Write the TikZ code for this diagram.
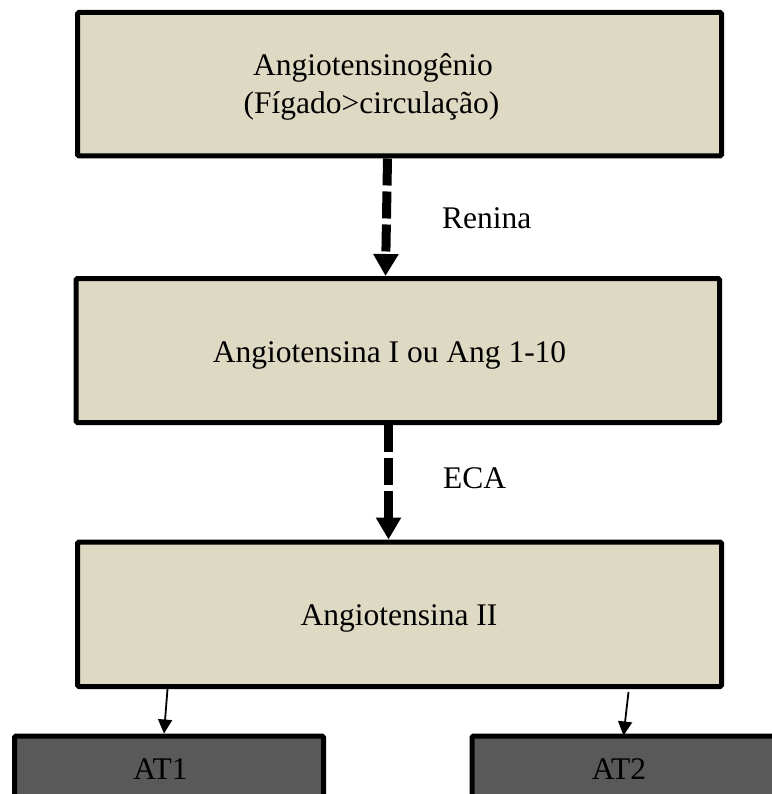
\documentclass[tikz,border=0pt]{standalone}
\usepackage{fontspec}
\setmainfont{Liberation Serif}
\usetikzlibrary{arrows.meta,calc}
\definecolor{tanfill}{HTML}{DDD9C3}
\definecolor{darkfill}{HTML}{595959}
\begin{document}
\begin{tikzpicture}[x=1pt,y=-1pt,
  mainbox/.style={draw=black,fill=tanfill,line width=5pt,rectangle,rounded corners=1.5pt,inner sep=0pt},
  atbox/.style={draw=black,fill=darkfill,line width=5pt,rectangle,rounded corners=1.5pt,inner sep=0pt},
  txt/.style={inner sep=0pt,anchor=base,font=\fontsize{31.5}{38}\selectfont},
  bigarrow/.style={line width=9pt,dash pattern=on 27pt off 6pt,-{Triangle[length=22pt,width=24pt]}},
  thinarrow/.style={line width=1.8pt,-{Triangle[length=14pt,width=14pt]}}]
\useasboundingbox (0,0) rectangle (771,794);
% boxes
\node[mainbox,minimum width=644pt,minimum height=143.5pt] (b1) at (399.5,84.25) {};
\node[mainbox,minimum width=643.5pt,minimum height=144pt] (b2) at (397.75,350.5) {};
\node[mainbox,minimum width=644pt,minimum height=144.5pt] (b3) at (399.5,614.25) {};
\node[atbox,minimum width=309pt,minimum height=64pt] (at1) at (169,768) {};
\node[atbox,minimum width=340pt,minimum height=64pt] (at2) at (642,768) {};
% texts
\node[txt] (t1a) at (373,76) {Angiotensinogênio};
\node[txt] (t1b) at (371.5,114) {(Fígado>circulação)};
\node[txt] (t2) at (389.5,362) {Angiotensina I ou Ang 1-10};
\node[txt] (t3) at (399,625) {Angiotensina II};
\node[txt,anchor=base west] (renina) at (442,229) {Renina};
\node[txt,anchor=base west] (eca) at (443,488) {ECA};
\node[txt] (at1t) at (160.5,779) {AT1};
\node[txt] (at2t) at (619,779) {AT2};
% connectors
\draw[bigarrow] ($(b1.south west)+(312.5,0)$) -- ($(b2.north west)+(312,0)$);
\draw[bigarrow] ($(b2.south west)+(315,0)$) -- ($(b3.north west)+(313.5,0)$);
\draw[thinarrow] ($(b3.south west)+(92.5,0)$) -- ($(at1.north west)+(152,0)$);
\draw[thinarrow] ($(b3.south west)+(553.5,3)$) -- ($(at2.north west)+(154,2)$);
\end{tikzpicture}
\end{document}
